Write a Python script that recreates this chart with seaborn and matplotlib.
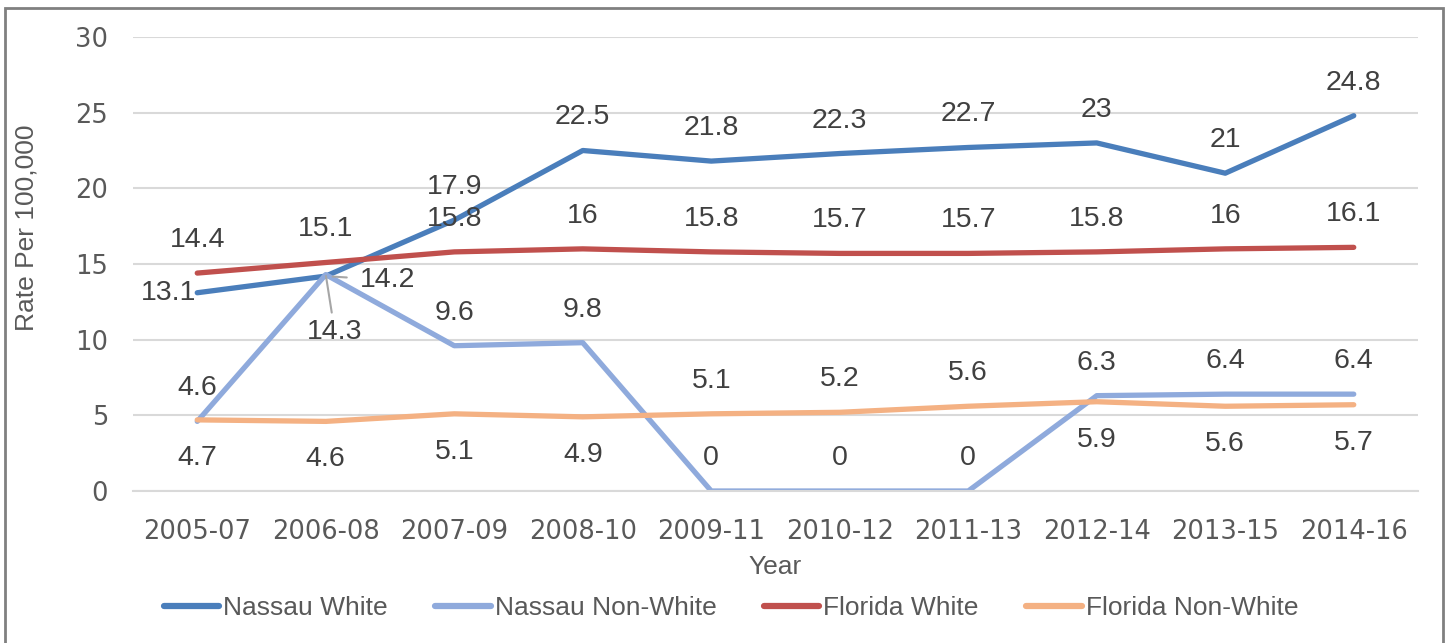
import pandas as pd
import numpy as np
import matplotlib.pyplot as plt
import seaborn as sns
from matplotlib.lines import Line2D
from matplotlib.patches import Rectangle

# data
years = ['2005-07', '2006-08', '2007-09', '2008-10', '2009-11',
         '2010-12', '2011-13', '2012-14', '2013-15', '2014-16']
nassau_white = [13.1, 14.2, 17.9, 22.5, 21.8, 22.3, 22.7, 23, 21, 24.8]
nassau_nonwhite = [4.6, 14.3, 9.6, 9.8, 0, 0, 0, 6.3, 6.4, 6.4]
florida_white = [14.4, 15.1, 15.8, 16, 15.8, 15.7, 15.7, 15.8, 16, 16.1]
florida_nonwhite = [4.7, 4.6, 5.1, 4.9, 5.1, 5.2, 5.6, 5.9, 5.6, 5.7]
series_names = ['Nassau White', 'Nassau Non-White', 'Florida White', 'Florida Non-White']
colors = ['#4A7EBB', '#8FAADC', '#C0504D', '#F4B183']

# where each data label sits relative to its point
label_side = {
    'Nassau White': ['left', 'right'] + ['above'] * 8,
    'Nassau Non-White': ['above', 'leader_below'] + ['above'] * 8,
    'Florida White': ['above'] * 10,
    'Florida Non-White': ['below'] * 4 + ['above'] * 3 + ['below'] * 3,
}

values = [nassau_white, nassau_nonwhite, florida_white, florida_nonwhite]
df = pd.DataFrame({
    'Year': years * 4,
    'Rate': sum(values, []),
    'Series': [s for s in series_names for _ in years],
})

sns.set_style('white')
plt.rcParams['font.family'] = ['Liberation Sans', 'DejaVu Sans']

fig = plt.figure(figsize=(14.49, 6.43), dpi=100)
ax = fig.add_axes([133 / 1449, 1 - 491 / 643, 1285 / 1449, 454 / 643])

sns.lineplot(data=df, x='Year', y='Rate', hue='Series', hue_order=series_names,
             palette=colors, linewidth=3.8, legend=False, ax=ax, sort=False)
for ln in ax.get_lines():
    ln.set_solid_capstyle('round')
    ln.set_solid_joinstyle('round')

ax.set_xlim(-0.5, 9.5)
ax.set_ylim(0, 30)
ax.set_yticks(range(0, 31, 5))
ax.grid(axis='y', color='#D9D9D9', linewidth=1.5)
ax.set_axisbelow(True)
for s in ['top', 'right', 'left']:
    ax.spines[s].set_visible(False)
ax.spines['bottom'].set_color('#D9D9D9')
ax.spines['bottom'].set_linewidth(1.5)
ax.tick_params(axis='both', length=0, colors='#595959')
ax.tick_params(axis='y', pad=18)
ax.tick_params(axis='x', pad=20)
for t in ax.get_xticklabels() + ax.get_yticklabels():
    t.set_fontfamily('DejaVu Sans')
    t.set_fontsize(18.5)

ax.set_xlabel('Year', fontsize=19, color='#595959')
ax.xaxis.set_label_coords(0.5, -0.14)
ax.set_ylabel('')
fig.text(27 / 1449, 1 - 228 / 643, 'Rate Per 100,000', rotation=90, ha='center', va='center',
         fontsize=19, color='#595959')

# data labels
for name, vals in zip(series_names, values):
    for i, v in enumerate(vals):
        side = label_side[name][i]
        txt = f'{v:g}'
        kw = dict(textcoords='offset pixels', fontsize=20.5, color='#404040', va='center')
        if side == 'above':
            ax.annotate(txt, (i, v), xytext=(0, 33), ha='center', **kw)
        elif side == 'below':
            ax.annotate(txt, (i, v), xytext=(0, -38), ha='center', **kw)
        elif side == 'left':
            ax.annotate(txt, (i, v), xytext=(-1, 0), ha='right', **kw)
        elif side == 'right':
            ax.annotate(txt, (i, v), xytext=(34, -4), ha='left',
                        arrowprops=dict(arrowstyle='-', color='#A6A6A6', lw=1.5,
                                        shrinkA=7, shrinkB=5), **kw)
        elif side == 'leader_below':
            ax.annotate(txt, (i, v), xytext=(9, -57), ha='center',
                        arrowprops=dict(arrowstyle='-', color='#A6A6A6', lw=1.5,
                                        shrinkA=2, shrinkB=1), **kw)

handles = [Line2D([], [], color=c, linewidth=4.5, solid_capstyle='round') for c in colors]
fig.legend(handles, series_names, loc='center', bbox_to_anchor=(731 / 1449, 1 - 608 / 643),
           ncol=4, frameon=False, fontsize=19, handlelength=2.1, handletextpad=0.15,
           columnspacing=1.8, labelcolor='#595959')

fig.patches.append(Rectangle((5 / 1449, -0.05), 1438 / 1449, 1.05 - 8 / 643,
                             transform=fig.transFigure, fill=False,
                             edgecolor='#808080', linewidth=2, clip_on=False))

fig.savefig('out.png', dpi=100)
